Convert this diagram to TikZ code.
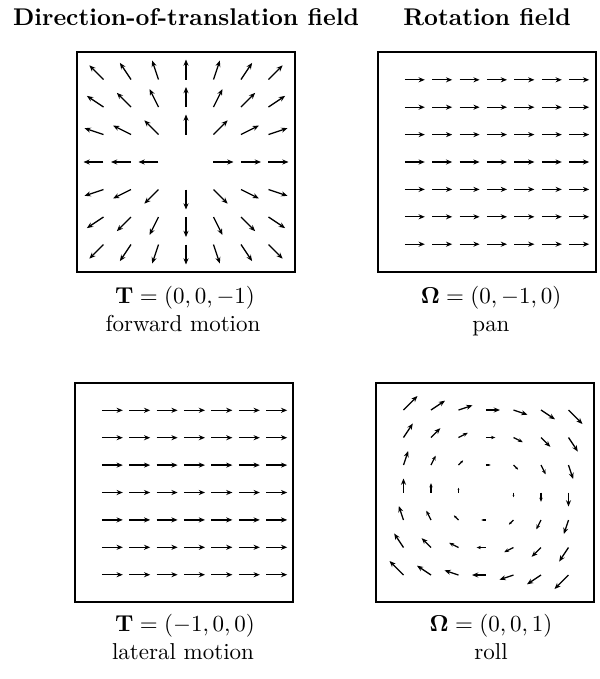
\documentclass[tikz,border=0pt]{standalone}
\usepackage[no-math]{fontspec}
\usetikzlibrary{arrows.meta,calc}
\tikzset{
  vec/.style={line width=0.55pt,-{Stealth[length=2.7pt,width=2.2pt]}},
  frame/.style={line width=0.6pt},
  ttl/.style={anchor=base,inner sep=0pt,font=\fontsize{10.5}{12}\selectfont\bfseries},
  capt/.style={anchor=base,inner sep=0pt,font=\fontsize{10}{12}\selectfont},
}
\begin{document}
\begin{tikzpicture}[x=0.4348pt,y=-0.4348pt]
\useasboundingbox (0,0) rectangle (600,679);
% panel centres (grid centres)
\coordinate (c1) at (186,162);
\coordinate (c2) at (487,162);
\coordinate (c3) at (184,492.5);
\coordinate (c4) at (486,492.5);
% titles
\node[ttl] (t1) at (186,25) {Direction-of-translation field};
\node[ttl] (t2) at (487,25) {Rotation field};
% frames
\draw[frame] (77,52) rectangle (295,272);
\draw[frame] (378,52) rectangle (596,272);
\draw[frame] (75,383) rectangle (293,602);
\draw[frame] (376,383) rectangle (594,602);
% panel 1: forward motion (unit directions)
\foreach \k in {-3,...,3}{\foreach \m in {-3,...,3}{
  \pgfmathsetmacro\rr{sqrt(\k*\k+\m*\m)}
  \ifdim \rr pt>0pt
    \draw[vec] ($(c1)+(\k*27.5,\m*27.5)$) -- ++({20*\k/\rr},{20*\m/\rr});
  \fi
}}
% panel 2: pan
\foreach \k in {-3,...,3}{\foreach \m in {-3,...,3}{
  \draw[vec] ($(c2)+(\k*27.4,\m*27.4)$) -- ++(20,0);
}}
% panel 3: lateral motion
\foreach \k in {-3,...,3}{\foreach \m in {-3,...,3}{
  \draw[vec] ($(c3)+(\k*27.4,\m*27.4)$) -- ++(21,0);
}}
% panel 4: roll
\foreach \k in {-3,...,3}{\foreach \m in {-3,...,3}{
  \pgfmathsetmacro\rr{sqrt(\k*\k+\m*\m)}
  \ifdim \rr pt>0pt
    \pgfmathsetmacro\hl{min(2.7,0.45*4.67*\rr*0.4348)}
    \draw[line width=0.55pt,-{Stealth[length=\hl pt,width=0.8*\hl pt]}] ($(c4)+(\k*27.5,\m*27.5)$) -- ++({-4.67*\m},{4.67*\k});
  \fi
}}
% captions
\node[capt] (f1) at (185,303.5) {$\mathbf{T}=(0,0,-1)$};
\node[capt] (g1) at (183,331.5) {forward motion};
\node[capt] (f2) at (491,303.5) {$\mathbf{\Omega}=(0,-1,0)$};
\node[capt] (g2) at (491,331.5) {pan};
\node[capt] (f3) at (185,631.5) {$\mathbf{T}=(-1,0,0)$};
\node[capt] (g3) at (183,659.5) {lateral motion};
\node[capt] (f4) at (491,631.5) {$\mathbf{\Omega}=(0,0,1)$};
\node[capt] (g4) at (491,659.5) {roll};
\end{tikzpicture}
\end{document}
